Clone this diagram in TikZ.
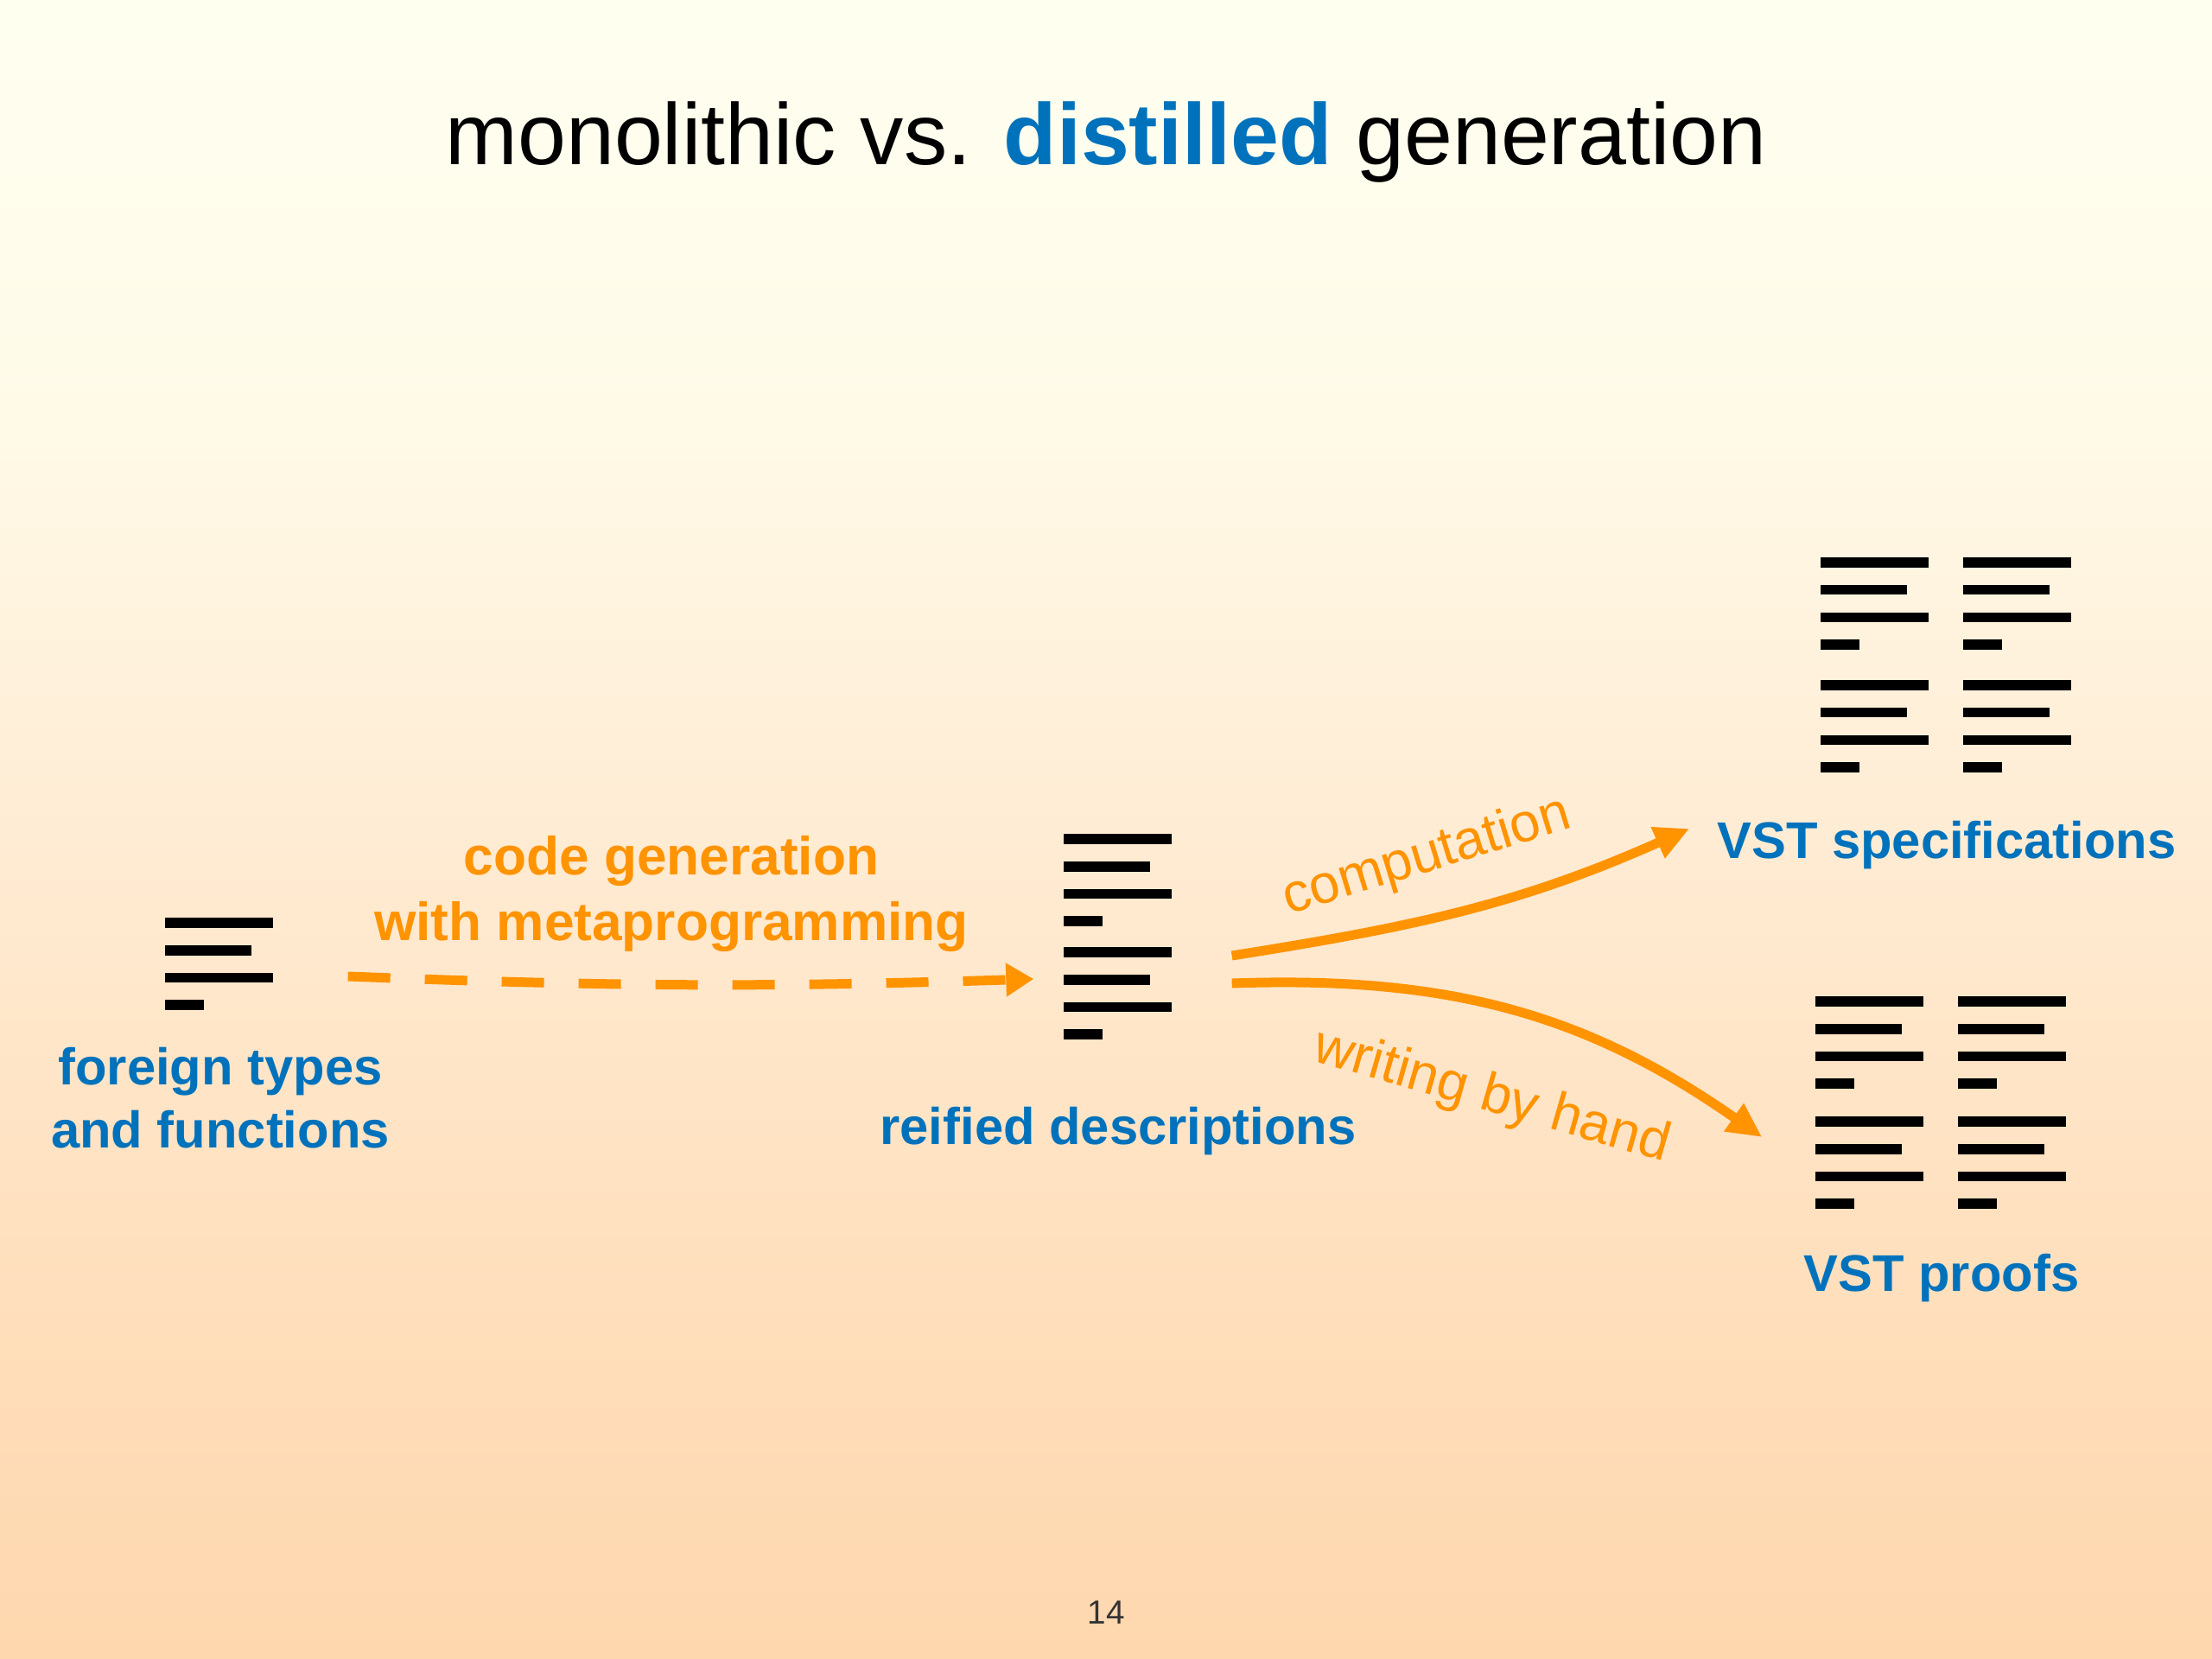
\documentclass[tikz,border=0pt]{standalone}
\usepackage{fontspec}
\setmainfont{Liberation Sans}
\usepackage{xcolor}
\usepackage{tikz}
\usetikzlibrary{arrows.meta,positioning,calc}
\definecolor{slideblue}{RGB}{0,114,188}
\definecolor{slideorange}{RGB}{255,147,0}
\definecolor{bgA}{RGB}{255,255,240}
\definecolor{bgB}{RGB}{255,250,232}
\definecolor{bgC}{RGB}{255,236,212}
\definecolor{bgD}{RGB}{255,224,190}
\definecolor{bgE}{RGB}{254,215,174}
\pgfdeclareverticalshading{slidebg}{100bp}{color(0bp)=(bgE); color(25bp)=(bgE); color(37.5bp)=(bgD); color(50bp)=(bgC); color(62.5bp)=(bgB); color(75bp)=(bgA); color(100bp)=(bgA)}
% four code lines below the top left corner of an icon box
\newcommand{\codelines}[3]{%
  \foreach \len [count=\i from 0] in {1.25,1.0,1.25,0.45}
    \draw[codeline] ($(#1.north west)+(#2,{-0.0575-0.317*\i-#3})$) -- ++(\len,0);
}

\begin{document}
\begin{tikzpicture}[
  codeline/.style={line width=0.115cm, black},
  iconbox/.style={inner sep=0pt, minimum width=1.25cm},
  bluelabel/.style={inner sep=0pt, text=slideblue, font=\fontsize{17}{20.5}\selectfont\bfseries},
  genlabel/.style={inner sep=0pt, text=slideorange, font=\fontsize{17.7}{21.6}\selectfont\bfseries},
  flowlabel/.style={inner sep=0pt, text=slideorange, font=\fontsize{18}{22}\selectfont},
  flow/.style={slideorange, line width=0.11cm, -{Triangle[length=0.4cm,width=0.37cm]}}
]
% Background
\shade[shading=slidebg] (0,0) rectangle (25.6,-19.2);
\useasboundingbox (0,0) rectangle (25.6,-19.2);
% Title
\node[font=\fontsize{28.6}{34}\selectfont, anchor=base] (title) at (12.80,-1.91)
  {monolithic vs. \textcolor{slideblue}{\bfseries distilled} generation};
% Code icons
\node[iconbox, minimum height=1.07cm] (foreign) at (2.545,-11.165) {};
\node[iconbox, minimum height=2.38cm] (reified) at (12.945,-10.85) {};
\node[iconbox, minimum width=2.89cm, minimum height=2.48cm] (spec) at (22.525,-7.70) {};
\node[iconbox, minimum width=2.89cm, minimum height=2.47cm] (proofs) at (22.465,-12.775) {};
\codelines{foreign}{0}{0}
\codelines{reified}{0}{0}
\codelines{reified}{0}{1.31}
\codelines{spec}{0}{0}
\codelines{spec}{1.65}{0}
\codelines{spec}{0}{1.42}
\codelines{spec}{1.65}{1.42}
\codelines{proofs}{0}{0}
\codelines{proofs}{1.65}{0}
\codelines{proofs}{0}{1.39}
\codelines{proofs}{1.65}{1.39}
% Labels (base of a two-line node is its last line)
\node[bluelabel, align=center, anchor=base] (foreignlabel) at (2.55,-13.28) {foreign types\\and functions};
\node[bluelabel, anchor=base] (reifiedlabel) at (12.94,-13.24) {reified descriptions};
\node[bluelabel, anchor=base] (speclabel) at (22.53,-9.93) {VST specifications};
\node[bluelabel, anchor=base] (proofslabel) at (22.47,-14.94) {VST proofs};
\node[genlabel, align=center, anchor=base] (genlabel) at (7.77,-10.88) {code generation\\with metaprogramming};
% Arrows
\draw[flow, dash pattern=on 0.49cm off 0.4cm, -{Triangle[length=0.32cm,width=0.37cm]}]
  ($(foreign.east)+(0.85,-0.135)$) to[bend right=2] ($(reified.west)+(-0.35,-0.48)$);
\draw[flow] ($(reified.east)+(0.68,-0.21)$) to[out=9, in=204] ($(speclabel.west)+(-0.315,0.185)$);
\draw[flow] ($(reified.east)+(0.68,-0.53)$) to[out=2, in=145] ($(proofs.west)+(-0.62,-0.385)$);
\node[flowlabel, anchor=base, rotate=17] (complabel) at (16.56,-10.08) {computation};
\node[flowlabel, anchor=base, rotate=-16] (handlabel) at (17.22,-12.86) {writing by hand};
% Page number
\node[font=\fontsize{11}{13}\selectfont, text=black!80, anchor=base] (pagenum) at (12.80,-18.79) {14};
\end{tikzpicture}
\end{document}
